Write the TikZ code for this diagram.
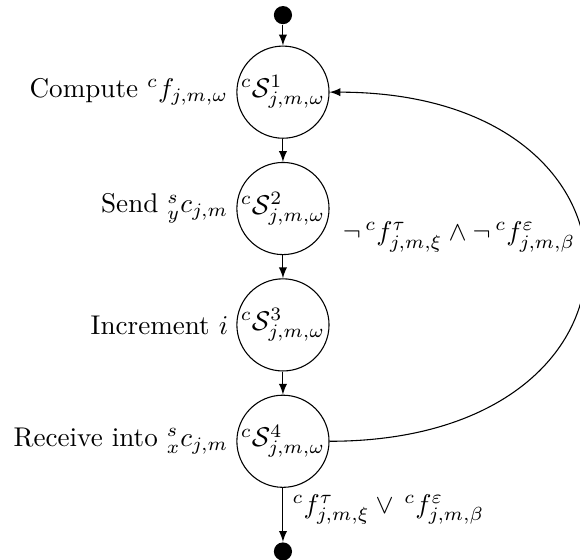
\documentclass[tikz,border=0pt]{standalone}
\usepackage{amsfonts,amsmath,amssymb}
\usepackage{tikz}
\usetikzlibrary{positioning,arrows,arrows.meta}

\begin{document}
\begin{tikzpicture}[>=latex, node distance=0.3cm,
  stnode/.style={draw, circle, minimum size=34pt, inner sep=0pt},
  dot/.style={fill=black, circle, minimum size=6.7pt, inner sep=0pt},
  act/.style={label={[label distance=-0.5pt]left:#1}}]

\node[dot] (start) {};
\node[stnode, below=0.27cm of start, act={Compute ${}^cf_{j,m,\omega}$}] (s1) {${}^c\mathcal{S}^1_{j,m,\omega}$};
\node[stnode, below=of s1, act={Send ${}^s_yc_{j,m}$}] (s2) {${}^c\mathcal{S}^2_{j,m,\omega}$};
\node[stnode, below=of s2, act={Increment $i$}] (s3) {${}^c\mathcal{S}^3_{j,m,\omega}$};
\node[stnode, below=of s3, act={Receive into ${}^s_xc_{j,m}$}] (s4) {${}^c\mathcal{S}^4_{j,m,\omega}$};
\node[dot, below=0.7cm of s4] (stop) {};

\draw[->] (start) -- (s1);
\draw[->] (s1) -- (s2);
\draw[->] (s2) -- (s3);
\draw[->] (s3) -- (s4);
\draw[->] (s4) -- node[right, pos=0.4] {${}^cf^\tau_{j,m,\xi}\vee\,{}^cf^\varepsilon_{j,m,\beta}$} (stop);
% loop back
\draw[->] (s4.east) to[out=0,in=0,looseness=2.5]
  node[pos=0.5, anchor=south east, yshift=2pt] {$\neg\,{}^cf^\tau_{j,m,\xi}\wedge\neg\,{}^cf^\varepsilon_{j,m,\beta}$} (s1.east);

\pgfresetboundingbox
\path[use as bounding box] ([xshift=-104.4pt,yshift=34pt]s1.center) rectangle ([xshift=109.6pt,yshift=-172.6pt]s1.center);
\end{tikzpicture}
\end{document}
